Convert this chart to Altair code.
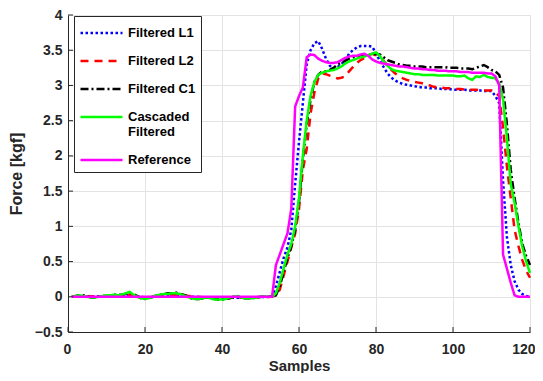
import altair as alt
import pandas as pd

series_names = ["Filtered L1", "Filtered L2", "Filtered C1", "Cascaded Filtered", "Reference"]
series_colors = ["#0000ff", "#ff0000", "#000000", "#00ff00", "#ff00ff"]
series_dash = [[2.5, 2.5], [8, 6], [8, 3, 2, 3], [1, 0], [1, 0]]

base_x = list(range(1, 54))
tail_x = list(range(54, 121))

l1_base_x = [1, 10, 16, 20, 27, 38, 47, 53]
l1_base = [0, 0.01, 0.02, -0.01, 0.02, -0.02, -0.01, 0]
l1_tail = [0.15, 0.35, 0.55, 0.7, 0.95, 1.6, 2.2, 2.75, 3.3, 3.5,
           3.6, 3.63, 3.52, 3.38, 3.28, 3.24, 3.26, 3.3, 3.36, 3.45,
           3.5, 3.54, 3.56, 3.56, 3.56, 3.55, 3.46, 3.35, 3.26, 3.17,
           3.11, 3.07, 3.04, 3.02, 3.01, 3.0, 2.99, 2.98, 2.97, 2.97,
           2.96, 2.96, 2.96, 2.95, 2.95, 2.95, 2.94, 2.94, 2.94, 2.94,
           2.93, 2.93, 2.93, 2.93, 2.92, 2.92, 2.92, 2.85, 2.75, 1.65,
           0.85, 0.45, 0.22, 0.1, 0.04, 0.01, 0.0]

l2_base_x = [1, 10, 16, 20, 27, 38, 47, 53]
l2_base = [0, 0.01, 0.03, -0.01, 0.03, -0.02, -0.01, 0]
l2_tail = [0.02, 0.1, 0.3, 0.5, 0.7, 0.9, 1.25, 1.8, 2.1, 2.6,
           2.9, 3.1, 3.17, 3.16, 3.14, 3.12, 3.1, 3.11, 3.13, 3.2,
           3.26, 3.32, 3.36, 3.39, 3.43, 3.45, 3.43, 3.4, 3.35, 3.28,
           3.22, 3.17, 3.13, 3.1, 3.08, 3.06, 3.05, 3.04, 3.03, 3.01,
           3.0, 2.98, 2.97, 2.97, 2.96, 2.96, 2.95, 2.95, 2.95, 2.94,
           2.94, 2.94, 2.94, 2.93, 2.93, 2.93, 2.93, 2.9, 2.85, 2.4,
           1.85, 1.4, 0.95, 0.72, 0.52, 0.37, 0.27]

c1_base = [0, 0.01, 0.02, 0.02, 0.01, -0.01, -0.01, 0, 0.01, 0.01,
           0.02, 0.03, 0.03, 0.03, 0.04, 0.06, 0.04, 0.01, -0.02, -0.03,
           -0.02, 0, 0.02, 0.03, 0.04, 0.05, 0.05, 0.06, 0.04, 0.03,
           0.01, -0.02, -0.03, -0.03, -0.02, -0.01, -0.02, -0.03, -0.04, -0.04,
           -0.03, -0.02, 0, 0.01, -0.01, -0.02, -0.02, -0.02, -0.01, 0,
           0, 0, 0.01]
c1_tail = [0.02, 0.15, 0.35, 0.55, 0.72, 0.95, 1.35, 1.95, 2.45, 2.8,
           3.05, 3.15, 3.2, 3.2, 3.22, 3.25, 3.3, 3.32, 3.35, 3.38,
           3.4, 3.41, 3.42, 3.42, 3.43, 3.44, 3.45, 3.44, 3.4, 3.36,
           3.34, 3.32, 3.3, 3.29, 3.28, 3.28, 3.27, 3.27, 3.27, 3.26,
           3.26, 3.26, 3.26, 3.26, 3.26, 3.25, 3.25, 3.25, 3.24, 3.24,
           3.24, 3.23, 3.25, 3.27, 3.29, 3.26, 3.22, 3.2, 3.15, 2.97,
           2.45, 1.8, 1.4, 1.05, 0.75, 0.58, 0.45]

cas_base = [0, 0.01, 0.02, 0.01, 0, -0.01, -0.01, 0, 0.01, 0.02,
            0.02, 0.03, 0.02, 0.03, 0.05, 0.07, 0.03, 0, -0.02, -0.03,
            -0.02, 0, 0.02, 0.03, 0.04, 0.04, 0.05, 0.05, 0.04, 0.02,
            0, -0.02, -0.03, -0.03, -0.02, -0.01, -0.02, -0.04, -0.04, -0.04,
            -0.03, -0.01, 0, 0.01, -0.01, -0.02, -0.02, -0.02, -0.01, 0,
            0, 0, 0]
cas_tail = [0.05, 0.2, 0.4, 0.6, 0.75, 1.0, 1.4, 2.0, 2.5, 2.85,
            3.05, 3.15, 3.18, 3.2, 3.21, 3.22, 3.24, 3.27, 3.31, 3.34,
            3.36, 3.38, 3.4, 3.41, 3.43, 3.45, 3.47, 3.42, 3.34, 3.28,
            3.23, 3.21, 3.2, 3.19, 3.18, 3.17, 3.16, 3.16, 3.15, 3.15,
            3.15, 3.15, 3.14, 3.14, 3.14, 3.14, 3.14, 3.13, 3.13, 3.14,
            3.1, 3.08, 3.13, 3.12, 3.15, 3.12, 3.11, 3.1, 3.03, 2.8,
            2.25, 1.6, 1.33, 1.0, 0.71, 0.5, 0.34]

ref_base_x = [1, 53]
ref_base = [0, 0]
ref_tail = [0.45, 0.6, 0.75, 0.9, 1.25, 2.7, 2.85, 2.97, 3.4, 3.44,
            3.43, 3.38, 3.35, 3.33, 3.32, 3.32, 3.33, 3.36, 3.39, 3.41,
            3.42, 3.42, 3.44, 3.45, 3.42, 3.37, 3.34, 3.32, 3.31, 3.3,
            3.29, 3.28, 3.27, 3.27, 3.26, 3.25, 3.24, 3.24, 3.23, 3.23,
            3.22, 3.22, 3.21, 3.21, 3.21, 3.2, 3.2, 3.2, 3.19, 3.19,
            3.19, 3.18, 3.18, 3.18, 3.18, 3.17, 3.17, 3.13, 3.0, 0.6,
            0.4, 0.2, 0.02, 0, 0, 0, 0]

x_ticks = [0, 20, 40, 60, 80, 100, 120]
y_ticks = [-0.5, 0, 0.5, 1, 1.5, 2, 2.5, 3, 3.5, 4]

parts = [
    (series_names[0], l1_base_x + tail_x, l1_base + l1_tail),
    (series_names[1], l2_base_x + tail_x, l2_base + l2_tail),
    (series_names[2], base_x + tail_x, c1_base + c1_tail),
    (series_names[3], base_x + tail_x, cas_base + cas_tail),
    (series_names[4], ref_base_x + tail_x, ref_base + ref_tail),
]

FONT = "Liberation Sans"
TXT = "#262626"
W, H = 462, 317

color = alt.Color(
    "series:N",
    scale=alt.Scale(domain=series_names, range=series_colors),
    legend=alt.Legend(
        title=None,
        orient="none",
        legendX=6,
        legendY=1,
        padding=5,
        strokeColor="#262626",
        fillColor="white",
        symbolType="M-1,0H3",
        symbolSize=441,
        symbolStrokeWidth=2.5,
        labelFont=FONT,
        labelFontSize=13,
        labelFontWeight="bold",
        labelColor="#000000",
        labelOffset=25,
        rowPadding=9,
        gridAlign="none",
        labelExpr="datum.label == 'Cascaded Filtered' ? ['Cascaded', 'Filtered'] : datum.label",
    ),
)
dash = alt.StrokeDash(
    "series:N",
    scale=alt.Scale(domain=series_names, range=series_dash),
    legend=None,
)

xscale = alt.Scale(domain=[0, 120], nice=False)
yscale = alt.Scale(domain=[-0.5, 4], nice=False)

xenc = alt.X(
    "sample:Q",
    scale=xscale,
    axis=alt.Axis(
        values=x_ticks, title="Samples", format="d",
        titleFont=FONT, titleFontSize=15, titleFontWeight="bold", titleColor=TXT,
        labelFont=FONT, labelFontSize=14, labelFontWeight="bold", labelColor=TXT,
        labelPadding=10, titlePadding=2, ticks=False, labelOverlap=False,
        labelFlush=True, labelFlushOffset=5,
        domainColor=TXT, gridColor="#e3e3e3",
    ),
)
yenc = alt.Y(
    "force:Q",
    scale=yscale,
    axis=alt.Axis(
        values=y_ticks, title="Force [kgf]", format=".1~f",
        titleFont=FONT, titleFontSize=16, titleFontWeight="bold", titleColor=TXT,
        labelFont=FONT, labelFontSize=14, labelFontWeight="bold", labelColor=TXT,
        labelPadding=6, titlePadding=10, ticks=False, labelFlush=False,
        labelOverlap=False,
        domainColor=TXT, gridColor="#e3e3e3",
    ),
)

layers = []
for name, xs, ys in parts:
    df = pd.DataFrame({"sample": xs, "force": ys, "series": name})
    layers.append(
        alt.Chart(df).mark_line(strokeWidth=2.5).encode(
            x=xenc, y=yenc, color=color, strokeDash=dash
        )
    )

# inward tick marks (MATLAB style), sharing the same axis definitions
xt = alt.Chart(pd.DataFrame({"sample": x_ticks})).mark_rule(color=TXT, strokeWidth=1).encode(
    x=xenc, y=alt.value(H), y2=alt.value(H - 5)
)
yt = alt.Chart(pd.DataFrame({"force": y_ticks})).mark_rule(color=TXT, strokeWidth=1).encode(
    y=yenc, x=alt.value(0), x2=alt.value(5)
)

chart = alt.layer(*layers, xt, yt).properties(
    width=W,
    height=H,
    autosize=alt.AutoSizeParams(type="none"),
    padding={"left": 60, "top": 7, "right": 5, "bottom": 41},
).configure_view(stroke=None).configure(background="white")

chart.save("out.html", embed_options={"renderer": "svg", "actions": False})
